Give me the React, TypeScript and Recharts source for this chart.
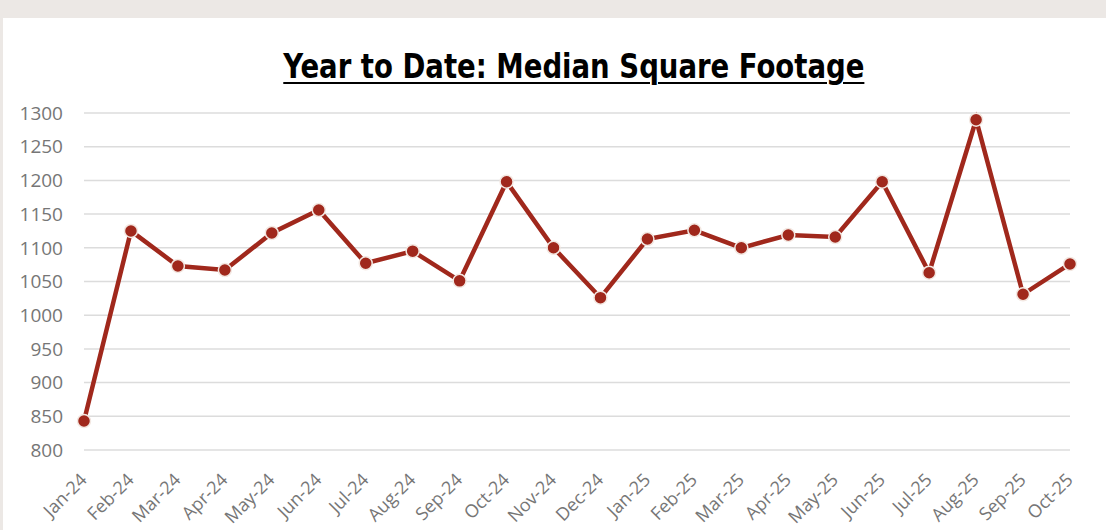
import { LineChart, Line, XAxis, YAxis, CartesianGrid } from "recharts";

const months = [
  "Jan-24", "Feb-24", "Mar-24", "Apr-24", "May-24", "Jun-24", "Jul-24", "Aug-24",
  "Sep-24", "Oct-24", "Nov-24", "Dec-24", "Jan-25", "Feb-25", "Mar-25", "Apr-25",
  "May-25", "Jun-25", "Jul-25", "Aug-25", "Sep-25", "Oct-25",
];

const medianSqft = [
  843, 1125, 1073, 1067, 1122, 1156, 1077, 1095, 1051, 1198, 1100, 1026,
  1113, 1126, 1100, 1119, 1116, 1198, 1063, 1290, 1031, 1076,
];

const yTicks = [800, 850, 900, 950, 1000, 1050, 1100, 1150, 1200, 1250, 1300];

const rows = months.map((m, i) => ({ month: m, sqft: medianSqft[i] }));

const LINE = "#a0281c";
const TICK_FONT = "'Open Sans', 'Liberation Sans', Arial, sans-serif";

function MonthTick(props: any) {
  const { x, y, payload } = props;
  const ax = x + 4;
  const ay = y + 23;
  return (
    <text
      x={ax}
      y={ay}
      transform={`rotate(-45, ${ax}, ${ay})`}
      textAnchor="end"
      fill="#767676"
      fontSize={18}
      fontFamily={TICK_FONT}
    >
      {payload.value}
    </text>
  );
}

export default function App() {
  return (
    <div
      style={{
        position: "fixed",
        left: 0,
        top: 0,
        width: 1106,
        height: 530,
        background: "#ece8e5",
        overflow: "hidden",
      }}
    >
      <div
        style={{
          position: "absolute",
          left: 3,
          top: 18,
          width: 1103,
          height: 512,
          background: "#ffffff",
        }}
      />
      <div
        style={{
          position: "absolute",
          left: 0,
          top: 49,
          width: 1148,
          textAlign: "center",
          lineHeight: "34px",
        }}
      >
        <span
          style={{
            display: "inline-block",
            transform: "scaleX(0.9)",
            transformOrigin: "center",
            fontFamily: "'DejaVu Sans Condensed', 'DejaVu Sans', sans-serif",
            fontWeight: "bold",
            fontSize: 34,
            textDecoration: "underline",
            textDecorationThickness: 2,
            textUnderlineOffset: 4,
            color: "#000",
          }}
        >
          Year to Date: Median Square Footage
        </span>
      </div>
      <div style={{ position: "absolute", left: 0, top: 0 }}>
        <LineChart
          width={1106}
          height={530}
          data={rows}
          margin={{ top: 113, right: 36, bottom: 0, left: 24 }}
        >
          <CartesianGrid vertical={false} stroke="#dcdcdc" strokeWidth={1.5} />
          <XAxis
            dataKey="month"
            interval={0}
            axisLine={false}
            tickLine={false}
            height={80}
            tick={<MonthTick />}
          />
          <YAxis
            domain={[800, 1300]}
            ticks={yTicks}
            width={60}
            axisLine={false}
            tickLine={false}
            tickSize={0}
            tickMargin={21}
            tick={{ fill: "#767676", fontSize: 19, fontFamily: TICK_FONT }}
          />
          <Line
            type="linear"
            dataKey="sqft"
            stroke={LINE}
            strokeWidth={4.5}
            dot={{ r: 6.5, fill: LINE, stroke: "#f3e8e2", strokeWidth: 1.5 }}
            isAnimationActive={false}
          />
        </LineChart>
      </div>
    </div>
  );
}
